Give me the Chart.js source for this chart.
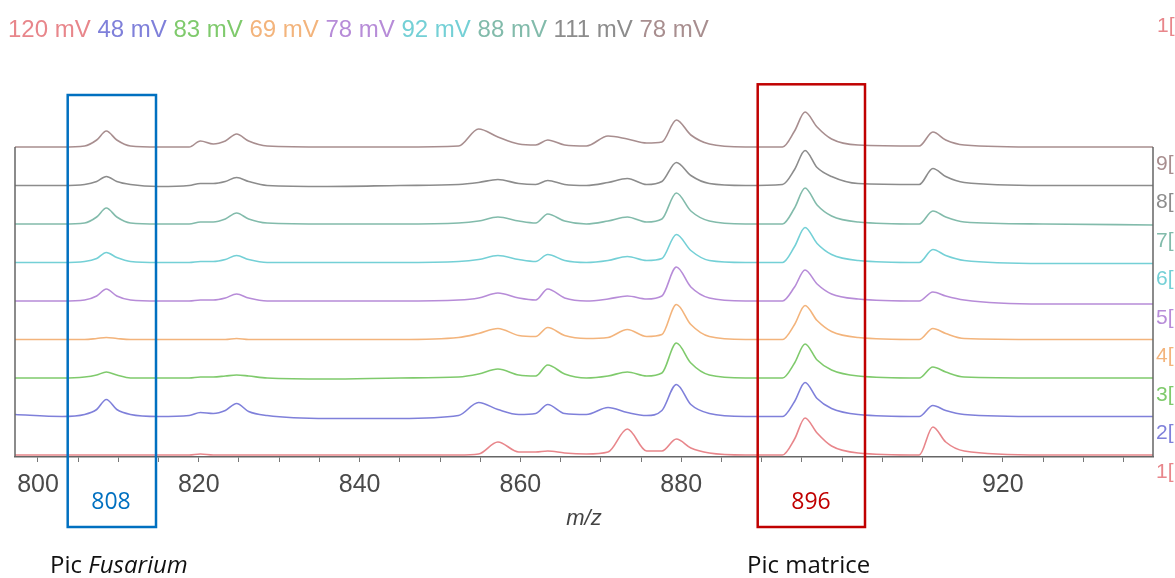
<!DOCTYPE html>
<html>
<head>
<meta charset="utf-8">
<script src="https://cdn.jsdelivr.net/npm/chart.js@4"></script>
<style>
  body { margin: 0; background: #fff; }
  #spectra { display: block; }
</style>
</head>
<body>
<canvas id="spectra" width="1175" height="578"></canvas>
<script>
// m/z positions of the points
const mz = [797, 803, 805.8, 807.3, 808.5, 809.8, 811.5, 815, 818.8, 820.2,
            821.8, 823.3, 824.7, 826.2, 828.5, 836, 845, 852.3, 854.8, 857.2,
            859.8, 861.9, 863.4, 865.5, 868.2, 870.9, 873.3, 875.7, 877.6, 879.4,
            881.2, 883.5, 888, 892.6, 894.1, 895.4, 896.9, 898.7, 902, 909.6,
            911.3, 912.9, 915.2, 925, 939];

// intensity of each spectrum above its own baseline
const spec1 = [0,0,0,0,0,0,0,0,0,1, 0,0,0,0,0,0,0,0,1,13, 3,3,4,2,1,3,26,4,4,16, 7,2,0,0,16,37,22,9,2,0, 28,13,4,0,0];
const spec2 = [2,0,2,7,17,7,2,0,1,4, 3,6,13,5,1,-2,-2,1,14,7, 2,3,12,3,2,9,4,1,6,32, 12,3,0,0,15,34,18,8,2,0, 11,6,2,0,0];
const spec3 = [0,0,1,3,6,3,0,0,0,1, 1,2,3,2,0,-1,0,1,4,9, 3,2,13,4,0,2,6,2,5,35, 15,3,0,0,15,34,18,8,2,0, 11,6,1,0,0];
const spec4 = [0,0,0,1,2,1,0,0,0,0, 0,0,1,0,0,0,0,2,6,11, 4,3,12,4,1,2,10,3,5,35, 15,3,0,0,15,34,19,8,2,0, 11,6,1,0,0];
const spec5 = [0,0,1,5,12,5,1,0,0,1, 1,3,7,3,0,0,0,1,3,8, 3,1,12,3,0,2,5,2,5,34, 14,3,0,0,14,31,17,7,2,0, 9,5,1,-3,-3];
const spec6 = [0,0,1,4,10,5,1,0,0,1, 1,3,7,3,0,0,0,1,3,7, 3,1,8,2,0,2,6,2,4,28, 12,2,0,0,16,35,19,8,2,0, 13,7,2,-1,-1];
const spec7 = [0,0,1,7,16,7,1,0,0,2, 2,5,11,5,1,0,0,1,3,7, 3,1,10,3,0,3,7,2,5,31, 13,3,0,0,16,36,19,8,2,0, 13,7,2,0,-1];
const spec8 = [0,0,1,4,9,4,1,-1,0,2, 2,4,8,4,0,-1,0,1,3,6, 2,1,5,1,0,3,7,1,4,23, 10,2,0,1,16,35,18,9,2,1, 17,9,3,0,0];
const spec9 = [0,0,1,7,16,7,1,0,0,6, 3,6,13,6,1,0,0,1,18,10, 3,2,7,2,1,11,8,4,5,27, 12,3,0,0,16,35,20,8,2,1, 15,7,2,0,0];

const spectra = [spec1, spec2, spec3, spec4, spec5, spec6, spec7, spec8, spec9];
const spectrumIds = ['1', '2', '3', '4', '5', '6', '7', '8', '9'];
const maxMillivolts = [120, 48, 83, 69, 78, 92, 88, 111, 78];
const tickStep = 5;

const colors = ['#e8868b', '#7f80da', '#7fca6c', '#f3b47c', '#b78cd8',
                '#74d0d6', '#82bbab', '#8c8c8c', '#a88e8f'];
const STACK = 38.5;   // vertical offset between stacked spectra

const datasets = spectra.map((vals, i) => ({
    label: spectrumIds[i],
    data: vals.map((v, k) => ({ x: mz[k], y: v + i * STACK })),
    borderColor: colors[i],
    borderWidth: 1.6,
    pointRadius: 0,
    fill: false,
    cubicInterpolationMode: 'monotone'
}));

const overlay = {
    id: 'overlay',
    afterDraw(chart) {
        const c = chart.ctx;
        const area = chart.chartArea;
        const y = chart.scales.y;
        const topFrame = y.getPixelForValue((spectra.length - 1) * STACK);
        c.save();

        // side frame lines
        c.strokeStyle = '#666';
        c.lineWidth = 1.5;
        c.beginPath();
        c.moveTo(area.left, topFrame); c.lineTo(area.left, area.bottom);
        c.moveTo(area.right, topFrame); c.lineTo(area.right, area.bottom);
        c.stroke();

        // header with the maximum intensities
        c.font = '24px "Liberation Sans", Arial, sans-serif';
        c.textBaseline = 'alphabetic';
        c.textAlign = 'left';
        let hx = 8;
        maxMillivolts.forEach((mv, i) => {
            const txt = mv + ' mV';
            c.fillStyle = colors[i];
            c.fillText(txt, hx, 37);
            hx += c.measureText(txt + ' ').width;
        });

        // spectrum numbers on the right
        c.font = '21px "Liberation Sans", Arial, sans-serif';
        c.textBaseline = 'middle';
        spectrumIds.forEach((id, i) => {
            c.fillStyle = colors[i];
            c.fillText(id + '[', area.right + 3, y.getPixelForValue(i * STACK) + 17);
        });
        c.fillStyle = colors[0];
        c.fillText('1[', area.right + 4, 26);

        // axis title
        c.font = 'italic 22px "Liberation Sans", Arial, sans-serif';
        c.fillStyle = '#444';
        c.textAlign = 'center';
        c.fillText('m/z', 584, 519);

        // highlight boxes
        c.fillStyle = '#fff';
        c.fillRect(759, 464, 104, 62);
        c.lineWidth = 2.5;
        c.strokeStyle = '#0070c0';
        c.strokeRect(67.7, 95, 88.3, 432);
        c.strokeStyle = '#c00000';
        c.strokeRect(757.7, 84.3, 107.3, 442.7);

        c.font = '23px "Open Sans", sans-serif';
        c.fillStyle = '#0070c0';
        c.fillText('808', 111, 502);
        c.fillStyle = '#c00000';
        c.fillText('896', 811, 502);

        // captions
        c.textAlign = 'left';
        c.textBaseline = 'alphabetic';
        c.fillStyle = '#111';
        c.font = '24px "Open Sans", sans-serif';
        c.fillText('Pic ', 50, 573);
        const w = c.measureText('Pic ').width;
        c.font = 'italic 24px "Open Sans", sans-serif';
        c.fillText('Fusarium', 50 + w, 573);
        c.font = '24px "Open Sans", sans-serif';
        c.fillText('Pic matrice', 747, 573);

        c.restore();
    }
};

new Chart(document.getElementById('spectra'), {
    type: 'line',
    data: { datasets },
    options: {
        responsive: false,
        animation: false,
        events: [],
        layout: { padding: { top: 84, left: 15, right: 22, bottom: 70 } },
        plugins: { legend: { display: false }, tooltip: { enabled: false } },
        scales: {
            x: {
                type: 'linear',
                min: 797.14,
                max: 938.68,
                grid: { drawOnChartArea: false, drawTicks: true, tickLength: 5, color: '#777' },
                border: { display: true, color: '#666', width: 1.5 },
                ticks: {
                    stepSize: tickStep,
                    autoSkip: false,
                    includeBounds: false,
                    maxRotation: 0,
                    padding: 8,
                    color: '#4a4a4a',
                    font: { family: '"Liberation Sans", Arial, sans-serif', size: 25 },
                    callback: v => (v % 20 === 0 ? String(v) : '')
                }
            },
            y: {
                display: false,
                min: -2,
                max: 371
            }
        }
    },
    plugins: [overlay]
});
</script>
</body>
</html>
